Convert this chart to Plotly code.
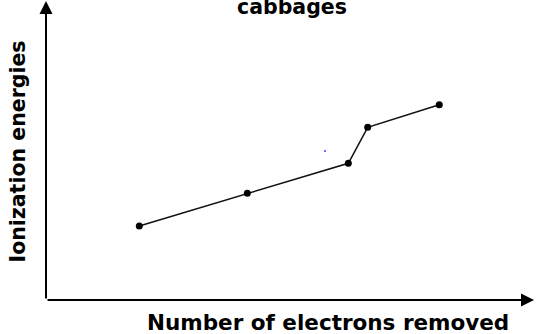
import plotly.graph_objects as go

# Data (arbitrary units, axis 0-10)
electrons_removed = [1.912, 4.125, 6.195, 6.592, 8.059]
ionization_energy = [2.467, 3.557, 4.557, 5.757, 6.510]
stray_x = [5.717]
stray_y = [4.967]

title_text = "cabbages"
x_label = "Number of electrons removed"
y_label = "Ionization energies"

FONT = "DejaVu Sans"

fig = go.Figure()
fig.add_trace(go.Scatter(
    x=electrons_removed, y=ionization_energy, mode="lines+markers",
    line=dict(color="#111111", width=1.5),
    marker=dict(color="black", size=7),
    showlegend=False, hoverinfo="skip",
))
fig.add_trace(go.Scatter(
    x=stray_x, y=stray_y, mode="markers",
    marker=dict(color="#3344ff", size=2),
    showlegend=False, hoverinfo="skip",
))

fig.update_layout(
    width=536, height=334,
    margin=dict(l=46, r=2, t=0, b=34),
    paper_bgcolor="white", plot_bgcolor="white",
    xaxis=dict(range=[0, 10], showgrid=False, zeroline=False, showticklabels=False,
               showline=False, ticks=""),
    yaxis=dict(range=[0, 10], showgrid=False, zeroline=False, showticklabels=False,
               showline=False, ticks=""),
)

# axes with arrowheads
fig.add_annotation(xref="paper", yref="paper", x=0, y=1.0, ax=0, ay=300,
                   text="", showarrow=True, arrowhead=2, arrowsize=1.3,
                   arrowwidth=2, arrowcolor="black")
fig.add_annotation(xref="paper", yref="paper", x=1.0, y=0, ax=-488, ay=0,
                   text="", showarrow=True, arrowhead=2, arrowsize=1.3,
                   arrowwidth=2, arrowcolor="black")

fig.add_annotation(xref="paper", yref="paper", x=0.504, y=1.0, yanchor="middle",
                   yshift=-7, text="<b>" + title_text + "</b>", showarrow=False,
                   font=dict(family=FONT, size=20.5, color="black"))
fig.add_annotation(xref="paper", yref="paper", x=0.578, y=0, yanchor="top",
                   yshift=-8, text="<b>" + x_label + "</b>", showarrow=False,
                   font=dict(family=FONT, size=21.5, color="black"))
fig.add_annotation(xref="paper", yref="paper", x=0, xanchor="center", xshift=-29,
                   y=0.495, text="<b>" + y_label + "</b>", showarrow=False, textangle=-90,
                   font=dict(family=FONT, size=20.5, color="black"))

fig.write_html("out.html", config={"displayModeBar": False},
               post_script="document.body.style.margin='0';document.body.style.overflow='hidden';")
